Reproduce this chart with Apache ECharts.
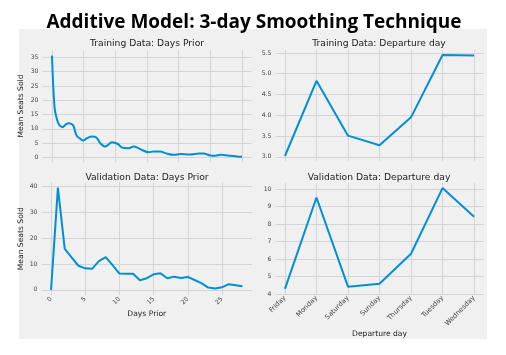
<!DOCTYPE html>
<html><head><meta charset="utf-8">
<script src="https://cdn.jsdelivr.net/npm/echarts@6/dist/echarts.min.js"></script>
<style>
html,body{margin:0;padding:0;background:#fff;}
#bg{position:absolute;left:19px;top:29px;width:468px;height:310px;background:#f0f0f0;}
#chart{position:absolute;left:0;top:0;width:506px;height:355px;}
</style></head><body>
<div id="bg"></div>
<div id="chart"></div>
<script>
// ---- data ----
const trainDays = [0, 0.4, 0.8, 1.2, 1.7, 2.1, 2.6, 3.1, 3.4, 3.9, 4.5, 4.9, 5.5, 6.3, 7.0, 7.6, 8.4, 9.5, 10.4, 11.0, 12.1, 12.9, 13.4, 14.2, 15.3, 16.0, 17.1, 17.9, 19.2, 20.3, 21.8, 23.2, 23.9, 25.0, 25.8, 26.6, 28.2, 29.2, 30];
const trainSeats = [35.7, 17.6, 13.2, 11.2, 10.6, 11.4, 12.0, 11.7, 11.0, 7.6, 6.5, 5.9, 6.7, 7.3, 7.0, 5.05, 3.8, 5.3, 4.7, 3.5, 3.2, 3.8, 3.5, 2.6, 1.8, 2.1, 2.1, 1.5, 0.9, 1.2, 1.05, 1.4, 1.4, 0.7, 0.6, 0.9, 0.6, 0.35, 0.2];
const valDays = [0,1,2,3,4,5,6,7,8,9,10,11,12,13,14,15,16,17,18,19,20,21,22,23,24,25,26,27,28];
const valSeats = [0, 39.4, 15.8, 12.5, 9.3, 8.3, 8.1, 11.1, 12.6, 9.5, 6.3, 6.2, 6.2, 3.7, 4.5, 6.0, 6.4, 4.5, 5.1, 4.6, 5.0, 3.8, 2.6, 0.9, 0.5, 1.0, 2.2, 1.8, 1.4];
const weekdays = ['Friday','Monday','Saturday','Sunday','Thursday','Tuesday','Wednesday'];
const trainDep = [3.02, 4.83, 3.51, 3.28, 3.95, 5.45, 5.44];
const valDep = [4.29, 9.52, 4.42, 4.59, 6.30, 10.06, 8.42];
// tick labels
const trainPriorXTicks = [0,5,10,15,20,25,30];
const trainPriorYTicks = [0,5,10,15,20,25,30,35];
const valPriorXTicks = [0,5,10,15,20,25];
const valPriorYTicks = [0,10,20,30,40];
const dayTicks = [0,1,2,3,4,5,6];
const trainDepYTicks = [3.0,3.5,4.0,4.5,5.0,5.5];
const valDepYTicks = [4,5,6,7,8,9,10];

const FONT = 'DejaVu Sans';
const LINE = '#008fd5';
const GRIDC = '#d4d4d4';
const TICKC = '#444';

function xAx(idx, min, max, ticks, opts) {
  return Object.assign({
    type: 'value', gridIndex: idx, min: min, max: max,
    axisLine: {show: false},
    axisTick: {show: false, customValues: ticks},
    splitLine: {show: true, lineStyle: {color: GRIDC, width: 1}},
    axisLabel: {show: false, customValues: ticks, fontFamily: FONT, fontSize: 6, color: TICKC}
  }, opts || {});
}
function yAx(idx, min, max, ticks, opts) {
  return Object.assign({
    type: 'value', gridIndex: idx, min: min, max: max,
    axisLine: {show: false},
    axisTick: {show: false, customValues: ticks},
    splitLine: {show: true, lineStyle: {color: GRIDC, width: 1}},
    axisLabel: {show: true, customValues: ticks, fontFamily: FONT, fontSize: 6.2, color: TICKC, margin: 4}
  }, opts || {});
}
const subTitle = (text, x, y) => ({
  text: text, left: x, top: y, textAlign: 'center', padding: 0,
  textStyle: {fontFamily: FONT, fontSize: 9.2, fontWeight: 'normal', color: '#222'}
});
const nameStyle = {fontFamily: FONT, fontSize: 7.6, color: '#222'};

const chart = echarts.init(document.getElementById('chart'), null, {renderer: 'canvas'});
chart.setOption({
  animation: false,
  backgroundColor: 'transparent',
  title: [
    {text: 'Additive Model: 3-day Smoothing Technique', left: 249, top: 8, textAlign: 'center',
     textStyle: {fontFamily: 'Open Sans', fontSize: 19, fontWeight: 'bold', color: '#000'}},
    subTitle('Training Data: Days Prior', 147, 39.5),
    subTitle('Training Data: Departure day', 379, 39.5),
    subTitle('Validation Data: Days Prior', 147, 173),
    subTitle('Validation Data: Departure day', 379, 173)
  ],
  grid: [
    {left: 42.5, top: 50, width: 209, height: 112},
    {left: 275.5, top: 50, width: 208, height: 111},
    {left: 41.5, top: 182.5, width: 210.5, height: 112.5},
    {left: 275.5, top: 183, width: 208, height: 111}
  ],
  xAxis: [
    xAx(0, -1.5, 31.5, trainPriorXTicks),
    xAx(1, -0.3, 6.3, dayTicks),
    xAx(2, -1.4, 29.4, valPriorXTicks, {
      name: 'Days Prior', nameLocation: 'middle', nameGap: 15, nameTextStyle: nameStyle,
      axisLabel: {show: true, customValues: valPriorXTicks, rotate: 45, margin: 3, fontFamily: FONT, fontSize: 6.2, color: TICKC}
    }),
    xAx(3, -0.3, 6.3, dayTicks, {
      name: 'Departure day', nameLocation: 'middle', nameGap: 36, nameTextStyle: nameStyle,
      axisLabel: {show: true, customValues: dayTicks, rotate: 45, margin: 3, fontFamily: FONT, fontSize: 6.8, color: TICKC,
        formatter: v => weekdays[Math.round(v)]}
    })
  ],
  yAxis: [
    yAx(0, -1.6, 37.6, trainPriorYTicks, {name: 'Mean Seats Sold', nameLocation: 'middle', nameGap: 17.5, nameTextStyle: nameStyle}),
    yAx(1, 2.9, 5.57, trainDepYTicks, {axisLabel: {show: true, customValues: trainDepYTicks, fontFamily: FONT, fontSize: 6.2, color: TICKC, margin: 4, formatter: v => v.toFixed(1)}}),
    yAx(2, -1.97, 41.37, valPriorYTicks, {name: 'Mean Seats Sold', nameLocation: 'middle', nameGap: 16.5, nameTextStyle: nameStyle}),
    yAx(3, 4.0, 10.35, valDepYTicks)
  ],
  series: [
    {type: 'line', xAxisIndex: 0, yAxisIndex: 0, showSymbol: false, smooth: 0.35,
     lineStyle: {color: LINE, width: 2}, data: trainDays.map((d, i) => [d, trainSeats[i]])},
    {type: 'line', xAxisIndex: 1, yAxisIndex: 1, showSymbol: false,
     lineStyle: {color: LINE, width: 2}, data: trainDep.map((v, i) => [i, v])},
    {type: 'line', xAxisIndex: 2, yAxisIndex: 2, showSymbol: false,
     lineStyle: {color: LINE, width: 2}, data: valDays.map((d, i) => [d, valSeats[i]])},
    {type: 'line', xAxisIndex: 3, yAxisIndex: 3, showSymbol: false,
     lineStyle: {color: LINE, width: 2}, data: valDep.map((v, i) => [i, v])}
  ]
});
</script>
</body></html>
